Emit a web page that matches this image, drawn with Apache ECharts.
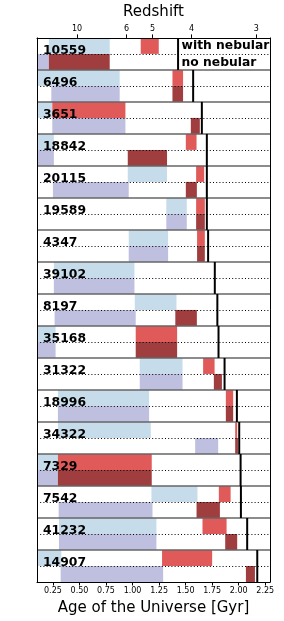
<!DOCTYPE html>
<html>
<head>
<meta charset="utf-8">
<script src="https://cdn.jsdelivr.net/npm/echarts@6/dist/echarts.min.js"></script>
<style>
html,body{margin:0;padding:0;background:#fff;}
#chart{width:284px;height:621px;}
</style>
</head>
<body>
<div id="chart"></div>
<script>
var galaxyIds = ['10559','6496','3651','18842','20115','19589','4347','39102','8197','35168','31322','18996','34322','7329','7542','41232','14907'];
// with nebular (top half)
var blueStart = [0.212,0.1,0.1,0.1,0.955,1.318,0.964,0.259,1.021,0.1,1.068,0.297,0.297,0.1,1.178,0.307,0.1];
var blueEnd   = [0.785,0.879,0.244,0.259,1.325,1.511,1.335,1.018,1.414,0.275,1.471,1.156,1.172,0.297,1.612,1.225,0.329];
var redStart  = [1.077,1.376,0.244,1.502,1.599,1.599,1.608,null,null,1.030,1.665,1.879,1.967,0.297,1.813,1.659,1.278];
var redEnd    = [1.247,1.476,0.933,1.603,1.675,1.681,1.681,null,null,1.420,1.773,1.948,1.986,1.181,1.924,1.886,1.750];
// no nebular (bottom half)
var lavStart  = [0.1,0.235,0.244,0.1,0.25,1.318,0.964,0.259,0.266,0.1,1.068,0.297,1.590,0.1,0.304,0.307,0.323];
var lavEnd    = [0.212,0.879,0.933,0.259,0.964,1.511,1.335,1.018,1.030,0.275,1.471,1.156,1.807,0.297,1.188,1.225,1.288];
var darkStart = [0.212,1.376,1.549,0.955,1.502,1.599,1.608,null,1.403,1.030,1.766,1.879,1.967,0.297,1.603,1.873,2.068];
var darkEnd   = [0.785,1.476,1.634,1.325,1.606,1.681,1.681,null,1.606,1.420,1.842,1.948,1.993,1.181,1.823,1.986,2.153];
// age of the universe at each galaxy's redshift
var universeAge = [1.429,1.571,1.653,1.700,1.700,1.700,1.712,1.775,1.799,1.810,1.867,1.983,2.005,2.018,2.021,2.080,2.175];
// axis ticks
var ageTicks = [0.25,0.5,0.75,1.0,1.25,1.5,1.75,2.0,2.25];
var redshiftLabels = ['10','6','5','4','3'];
var redshiftAges = [0.478,0.944,1.189,1.555,2.165];
var halfLabels = ['with nebular','no nebular'];

var FONT = 'DejaVu Sans';
var COLORS = {blue:'#c6dcea', red:'#e05a5a', lav:'#bfbfdf', dark:'#a03e3f'};

function buildRects(starts, ends, half){
  var out = [];
  for (var i = 0; i < starts.length; i++){
    if (starts[i] == null) continue;
    out.push([starts[i], ends[i], i, half]);
  }
  return out;
}

function rectRender(params, api){
  var s = api.value(0), e = api.value(1), row = api.value(2), half = api.value(3);
  var p1 = api.coord([s, row + half*0.5]);
  var p2 = api.coord([e, row + half*0.5 + 0.5]);
  return {
    type:'rect',
    shape:{x:p1[0], y:Math.min(p1[1],p2[1]), width:p2[0]-p1[0], height:Math.abs(p2[1]-p1[1])},
    style:{fill:api.visual('color')}
  };
}

function rectSeries(data, color){
  return {
    type:'custom', data:data, renderItem:rectRender, z:2, clip:true,
    itemStyle:{color:color}, encode:{x:[0,1], y:2}, silent:true
  };
}

var chart = echarts.init(document.getElementById('chart'), null, {renderer:'canvas'});
var option = {
  animation:false,
  backgroundColor:'#fff',
  grid:{left:37, top:32, width:233, height:555, show:false},
  xAxis:[{
    type:'value', min:0.1, max:2.295, position:'bottom', z:10,
    axisLine:{show:true, onZero:false, lineStyle:{color:'#000', width:1}},
    axisTick:{show:true, customValues:ageTicks, length:3.5, lineStyle:{color:'#000', width:1}},
    axisLabel:{customValues:ageTicks, formatter:function(v){return v.toFixed(2);}, fontSize:8, color:'#000', margin:5, fontFamily:FONT},
    splitLine:{show:false},
    name:'Age of the Universe [Gyr]', nameLocation:'middle', nameGap:19,
    nameTextStyle:{fontSize:15, color:'#000', fontFamily:FONT}
  },{
    type:'value', min:0.1, max:2.295, position:'top', z:10,
    axisLine:{show:true, onZero:false, lineStyle:{color:'#000', width:1}},
    axisTick:{show:true, customValues:redshiftAges, length:3.5, lineStyle:{color:'#000', width:1}},
    axisLabel:{customValues:redshiftAges, fontSize:8, color:'#000', margin:5, fontFamily:FONT,
      formatter:function(v){
        var best=0; for (var k=1;k<redshiftAges.length;k++){ if (Math.abs(redshiftAges[k]-v) < Math.abs(redshiftAges[best]-v)) best=k; }
        return redshiftLabels[best];
      }},
    splitLine:{show:false},
    name:'Redshift', nameLocation:'middle', nameGap:14,
    nameTextStyle:{fontSize:15, color:'#000', fontFamily:FONT}
  }],
  yAxis:[{
    type:'value', min:0, max:17, interval:1, inverse:true, z:10,
    axisLine:{show:true, onZero:false, lineStyle:{color:'#000', width:1}},
    axisTick:{show:false}, axisLabel:{show:false},
    splitLine:{show:true, showMinLine:false, showMaxLine:false, lineStyle:{color:'#666', width:1.5}},
    minorTick:{show:false, splitNumber:2},
    minorSplitLine:{show:true, lineStyle:{color:'#000', width:1, type:[1,2.2]}}
  },{
    type:'value', min:0, max:17, interval:1, inverse:true, position:'right', z:10,
    axisLine:{show:true, onZero:false, lineStyle:{color:'#000', width:1}},
    axisTick:{show:false}, axisLabel:{show:false}, splitLine:{show:false}
  }],
  series:[
    rectSeries(buildRects(blueStart, blueEnd, 0), COLORS.blue),
    rectSeries(buildRects(redStart, redEnd, 0), COLORS.red),
    rectSeries(buildRects(lavStart, lavEnd, 1), COLORS.lav),
    rectSeries(buildRects(darkStart, darkEnd, 1), COLORS.dark),
    {
      type:'custom', z:11, silent:true, clip:true,
      data:universeAge.map(function(a,i){return [a,i];}),
      encode:{x:0, y:1},
      renderItem:function(params, api){
        var a = api.value(0), row = api.value(1);
        var p1 = api.coord([a,row]), p2 = api.coord([a,row+1]);
        return {type:'line', shape:{x1:p1[0],y1:p1[1],x2:p2[0],y2:p2[1]}, style:{stroke:'#000', lineWidth:2}};
      }
    },
    {
      type:'custom', z:12, silent:true,
      data:galaxyIds.map(function(id,i){return [0.1,i];}),
      encode:{x:0, y:1},
      renderItem:function(params, api){
        var row = api.value(1);
        var p = api.coord([0.1, row+0.5]);
        return {type:'text', style:{text:galaxyIds[params.dataIndex], x:p[0]+6, y:p[1]-3.5,
          fontSize:12.4, fontWeight:'bold', fontFamily:FONT, fill:'#000', textAlign:'left', textVerticalAlign:'middle'}};
      }
    },
    {
      type:'custom', z:12, silent:true,
      data:[[universeAge[0],0,0],[universeAge[0],0,1]],
      encode:{x:0, y:1},
      renderItem:function(params, api){
        var a = api.value(0), row = api.value(1), half = api.value(2);
        var p = api.coord([a, row + half*0.5 + 0.25]);
        return {type:'text', style:{text:halfLabels[half], x:p[0]+3.5, y:p[1]+(half?1:0),
          fontSize:12.3, fontWeight:'bold', fontFamily:FONT, fill:'#000', textAlign:'left', textVerticalAlign:'middle'}};
      }
    }
  ]
};
chart.setOption(option);
</script>
</body>
</html>
